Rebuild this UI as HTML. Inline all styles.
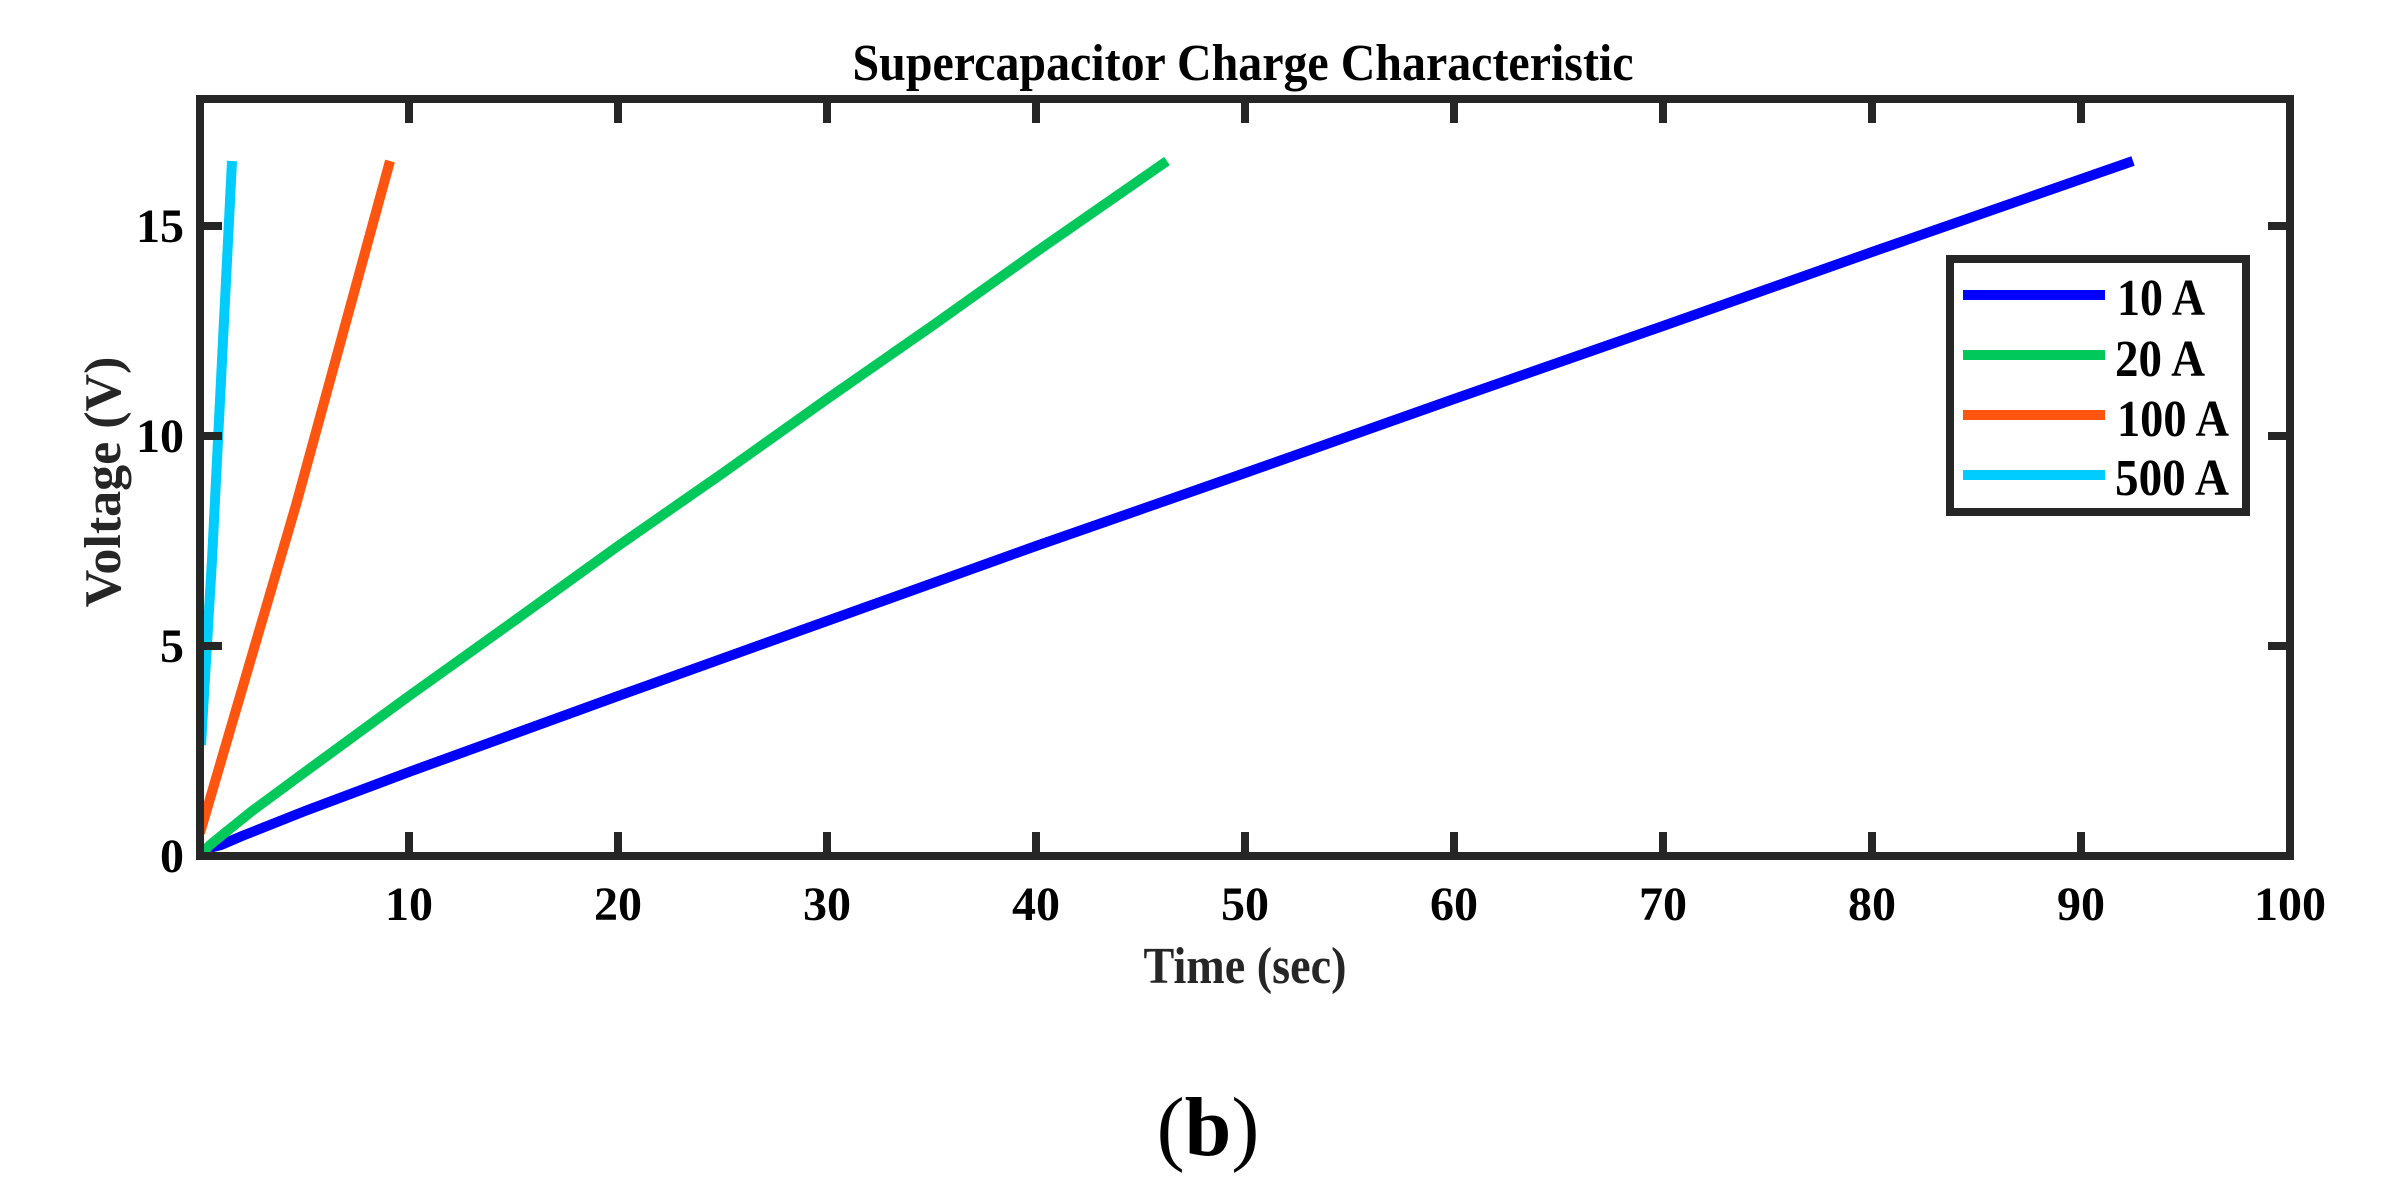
<!DOCTYPE html>
<html><head><meta charset="utf-8"><style>
html,body{margin:0;padding:0;background:#fff;}
svg{display:block;}
text{font-family:"Liberation Serif",serif;font-weight:bold;fill:#000;}
.t{fill:#262626;}
</style></head><body>
<svg width="2384" height="1201" viewBox="0 0 2384 1201" xmlns="http://www.w3.org/2000/svg">
<rect width="2384" height="1201" fill="#fff"/>
<text x="1243" y="80" font-size="52" text-anchor="middle" textLength="781" lengthAdjust="spacingAndGlyphs">Supercapacitor Charge Characteristic</text>
<defs><clipPath id="c"><rect x="200" y="99" width="2090" height="757"/></clipPath></defs>
<g clip-path="url(#c)" fill="none" stroke-width="10" stroke-linejoin="round">
<polyline stroke="#0000ff" points="200,856 205,849 221,845 242,836 305,811 409,772 618,696 827,621 1036,546 1245,473 1454,399 1663,326 1872,252 2133,161"/>
<polyline stroke="#00c85a" points="200,856 205,850 210,845 221,836 252,811 305,772 409,696 514,621 618,546 723,473 827,399 932,326 1036,252 1167,161"/>
<polyline stroke="#ff5510" points="200,833 296,505 390,161"/>
<polyline stroke="#00ccff" points="201,745 212,560 232,161"/>
</g>
<g stroke="#262626" stroke-width="8" fill="none">
<rect x="200" y="99" width="2090" height="757"/>
<path d="M409,856v-24M618,856v-24M827,856v-24M1036,856v-24M1245,856v-24M1454,856v-24M1663,856v-24M1872,856v-24M2081,856v-24
M409,99v24M618,99v24M827,99v24M1036,99v24M1245,99v24M1454,99v24M1663,99v24M1872,99v24M2081,99v24
M200,646h22M200,436h22M200,226h22M2290,646h-22M2290,436h-22M2290,226h-22"/>
</g>
<g font-size="48" text-anchor="middle" class="t">
<text x="409" y="920">10</text><text x="618" y="920">20</text><text x="827" y="920">30</text>
<text x="1036" y="920">40</text><text x="1245" y="920">50</text><text x="1454" y="920">60</text>
<text x="1663" y="920">70</text><text x="1872" y="920">80</text><text x="2081" y="920">90</text>
<text x="2290" y="920">100</text>
</g>
<g font-size="48" text-anchor="end" class="t">
<text x="184" y="872">0</text><text x="184" y="662">5</text><text x="184" y="452">10</text><text x="184" y="242">15</text>
</g>
<text x="1245" y="983" font-size="52" text-anchor="middle" textLength="203" lengthAdjust="spacingAndGlyphs" class="t">Time (sec)</text>
<text transform="translate(120,482) rotate(-90)" font-size="52" text-anchor="middle" class="t">Voltage (V)</text>
<rect x="1950" y="259" width="296" height="253" fill="#fff" stroke="#262626" stroke-width="8"/>
<g stroke-width="10">
<line x1="1963" y1="295" x2="2105" y2="295" stroke="#0000ff"/>
<line x1="1963" y1="355" x2="2105" y2="355" stroke="#00c85a"/>
<line x1="1963" y1="415" x2="2105" y2="415" stroke="#ff5510"/>
<line x1="1963" y1="475" x2="2105" y2="475" stroke="#00ccff"/>
</g>
<g font-size="52">
<text x="2117" y="315" textLength="88" lengthAdjust="spacingAndGlyphs">10 A</text>
<text x="2115" y="376" textLength="90" lengthAdjust="spacingAndGlyphs">20 A</text>
<text x="2117" y="436" textLength="112" lengthAdjust="spacingAndGlyphs">100 A</text>
<text x="2115" y="495" textLength="114" lengthAdjust="spacingAndGlyphs">500 A</text>
</g>
<text x="1208" y="1155" font-size="84" text-anchor="middle"><tspan font-weight="normal">(</tspan>b<tspan font-weight="normal">)</tspan></text>
</svg>
</body></html>
